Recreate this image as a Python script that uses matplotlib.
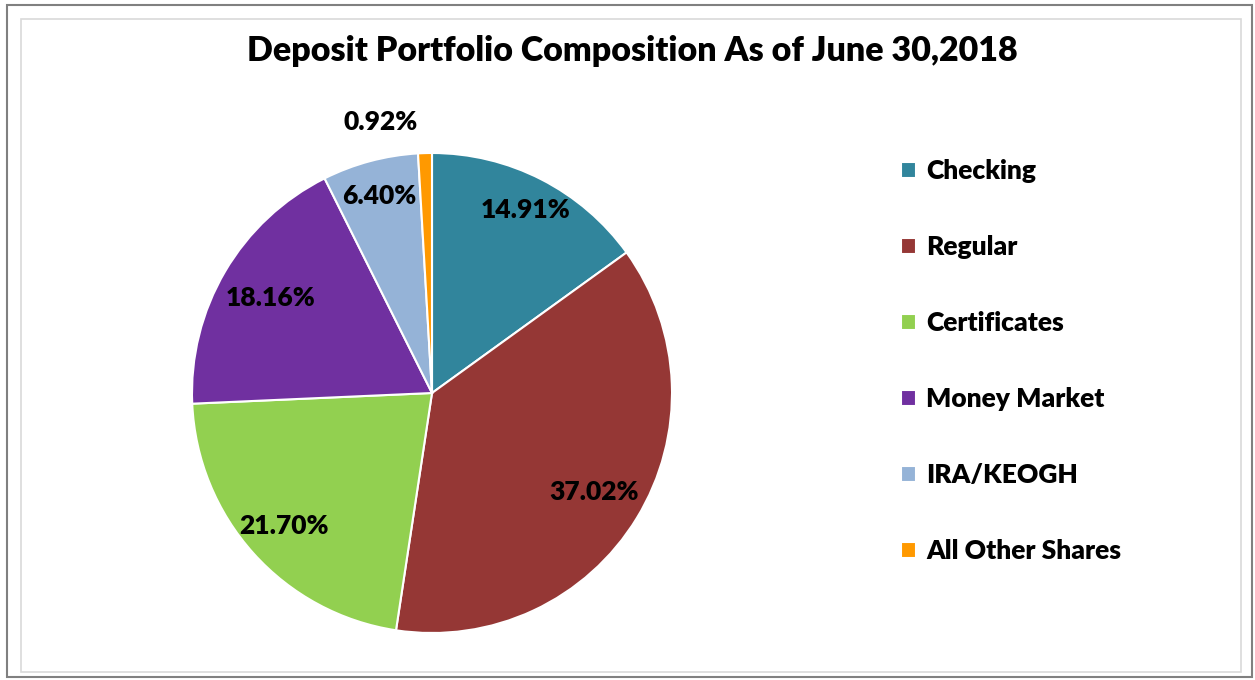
import matplotlib
matplotlib.use('Agg')
import matplotlib.pyplot as plt
import numpy as np
from matplotlib.patches import Rectangle

plt.rcParams['font.family'] = ['Lato', 'DejaVu Sans']
plt.rcParams['font.weight'] = 'heavy'

categories = ['Checking', 'Regular', 'Certificates', 'Money Market', 'IRA/KEOGH', 'All Other Shares']
shares = [14.91, 37.02, 21.70, 18.16, 6.40, 0.92]
colors = ['#31859C', '#953735', '#92D050', '#7030A0', '#95B3D7', '#FF9900']
title = 'Deposit Portfolio Composition As of June 30,2018'

# how far out each percentage sits (fraction of radius)
label_r = [0.855, 0.79, 0.83, 0.78, 0.85, 1.13]
label_dx = [0, 0, 0, 0, 0, -0.18]

W, H = 1255, 680
fig = plt.figure(figsize=(W / 100, H / 100), dpi=100)

# frames
fig.patches.append(Rectangle((7 / W, 1 - 677 / H), 1245 / W, 672 / H, transform=fig.transFigure,
                             fill=False, edgecolor='#808080', linewidth=1.5))
fig.patches.append(Rectangle((21 / W, 1 - 672 / H), 1220 / W, 653 / H, transform=fig.transFigure,
                             fill=False, edgecolor='#D9D9D9', linewidth=1.2))

cx, cy, r = 432, 393, 240
ax = fig.add_axes([(cx - r) / W, (H - cy - r) / H, 2 * r / W, 2 * r / H])
wedges, _ = ax.pie(shares, colors=colors, startangle=90, counterclock=False,
                   wedgeprops=dict(edgecolor='white', linewidth=1.5))
ax.set_xlim(-1, 1)
ax.set_ylim(-1, 1)
ax.set_aspect('equal')
ax.axis('off')

for w, v, lr, dx in zip(wedges, shares, label_r, label_dx):
    mid = np.deg2rad((w.theta1 + w.theta2) / 2)
    ax.text(lr * np.cos(mid) + dx, lr * np.sin(mid), f'{v:.2f}%', ha='center', va='center',
            fontsize=19, fontweight='heavy', color='black', clip_on=False)

fig.text(632 / W, 1 - 51 / H, title, ha='center', va='center', fontsize=24.5, fontweight='heavy')

fig.legend(wedges, categories, loc='upper left', bbox_to_anchor=(901 / W, 1 - 159 / H),
           frameon=False, handlelength=0.55, handleheight=0.55,
           handletextpad=0.4, labelspacing=1.97, borderpad=0, borderaxespad=0,
           prop=dict(weight='heavy', size=19))

fig.savefig('out.png', dpi=100)
